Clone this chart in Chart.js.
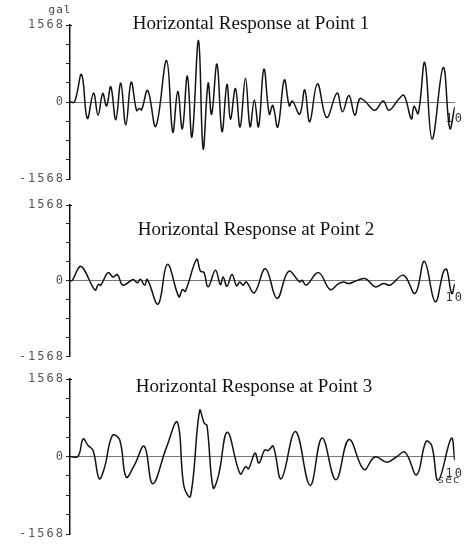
<!DOCTYPE html>
<html>
<head>
<meta charset="utf-8">
<script src="https://cdn.jsdelivr.net/npm/chart.js@4.4.0/dist/chart.umd.min.js"></script>
<style>
  html, body { margin: 0; padding: 0; background: #fff; }
  #wrap { position: relative; width: 464px; height: 547px; overflow: hidden; }
  canvas { position: absolute; left: 0; }
</style>
</head>
<body>
<div id="wrap">
  <canvas id="p1" width="464" height="190" style="top:0"></canvas>
  <canvas id="p2" width="464" height="180" style="top:185px"></canvas>
  <canvas id="p3" width="464" height="187" style="top:360px"></canvas>
</div>
<script>
// ─── DATA (peaks / troughs, sec & gal) ───────────────────────────
const titles = [
    'Horizontal Response at Point 1',
    'Horizontal Response at Point 2',
    'Horizontal Response at Point 3',
];

const yMax = 1568;
const yStep = 392;
const yLabelValues = [-1568, 0, 1568];
const yLabelText   = ['-1568', '0', '1568'];
const timeMax = 10;
const unitY = 'gal';
const unitX = 'sec';

const time1 = [0, 0.12, 0.30, 0.45, 0.61, 0.73, 0.85, 0.95, 1.06, 1.19, 1.32, 1.45, 1.59, 1.73, 1.80, 1.86,
    2.02, 2.23, 2.51, 2.67, 2.80, 2.92, 3.05, 3.17, 3.34, 3.46, 3.59, 3.68, 3.82, 3.95, 4.08, 4.17, 4.30,
    4.42, 4.56, 4.68, 4.79, 4.90, 5.04, 5.18, 5.27, 5.40, 5.57, 5.70, 5.78, 5.97, 6.10, 6.23, 6.43, 6.67,
    6.94, 7.08, 7.25, 7.40, 7.53, 7.66, 7.92, 8.14, 8.29, 8.53, 8.68, 8.87, 8.94, 9.05, 9.22, 9.41, 9.70,
    9.87, 10.0];
const accel1 = [0, 5, 560, -335, 181, -268, 175, -80, 310, -360, 385, -469, 402, -175, -130, -160,
    235, -495, 845, -613, 215, -546, 526, -710, 1253, -951, 382, -250, 770, -603, 358, -350, 275,
    -510, 485, -503, 40, -503, 670, -250, -67, -510, 449, -80, 20, -248, 248, -402, 369, -315,
    181, -201, 134, -268, 67, 20, -168, 20, -168, 47, 134, -345, -87, -235, 804, -757, 703,
    -536, -100];

const time2 = [0, 0.06, 0.25, 0.36, 0.65, 0.74, 0.80, 0.99, 1.12, 1.23, 1.38, 1.64, 1.75, 1.83, 1.94,
    2.01, 2.29, 2.53, 2.83, 2.92, 3.00, 3.29, 3.39, 3.48, 3.59, 3.78, 3.91, 3.98, 4.08, 4.21, 4.33,
    4.41, 4.50, 4.58, 4.79, 5.08, 5.38, 5.68, 5.97, 6.03, 6.14, 6.46, 6.76, 6.98, 7.11, 7.24, 7.37,
    7.67, 7.93, 8.15, 8.32, 8.67, 8.97, 9.21, 9.49, 9.71, 9.79, 9.92, 10.0];
const accel2 = [0, 10, 295, 240, -190, -70, -90, 170, 80, 130, -90, 30, -40, 35, -90,
    30, -478, 342, -328, -180, -212, 445, 200, 175, -123, 219, -76, 82, -110, 130, -102,
    -21, -89, -21, -246, 253, -362, 198, -20, 14, -89, 171, -178, -55, -21, -55, -21,
    48, -122, -55, -89, 117, -260, 403, -430, 198, 240, -260, -60];

const time3 = [0, 0.21, 0.34, 0.47, 0.60, 0.76, 0.90, 1.10, 1.29, 1.46, 1.67, 1.93, 2.15, 2.50, 2.79,
    2.96, 3.13, 3.37, 3.49, 3.56, 3.72, 3.86, 4.09, 4.42, 4.57, 4.64, 4.81, 4.91, 5.06, 5.15, 5.28,
    5.49, 5.86, 6.24, 6.55, 6.91, 7.25, 7.64, 7.92, 8.24, 8.48, 8.71, 9.01, 9.25, 9.40, 9.57, 9.91,
    10.0];
const accel3 = [0, 5, 356, 222, 121, -450, -215, 424, 338, -416, -181, 208, -551, 170, 692,
    -600, -806, 928, 672, 630, -632, -382, 490, -349, -201, -250, 68, -133, 133, 118, 208,
    -450, 504, -584, 376, -470, 343, -262, -10, -114, -10, 87, -370, 302, 221, -483, 370,
    -80];

// ─── TEXT DRAWN ON EACH PANEL ─────────────────────────────────
function panelText(p) {
    return {
        id: 'panelText',
        beforeDraw(chart) {
            // wide plotter-style lettering for the axis numbers
            chart.ctx.letterSpacing = '2px';
        },
        afterDraw(chart) {
            const ctx = chart.ctx;
            ctx.save();
            ctx.letterSpacing = '0px';
            ctx.fillStyle = '#111';
            ctx.font = '19px "Liberation Serif"';
            ctx.textAlign = 'center';
            ctx.textBaseline = 'alphabetic';
            ctx.fillText(p.title, p.titleX, p.titleY);
            (p.notes || []).forEach(n => {
                ctx.font = '11px "DejaVu Sans Mono"';
                ctx.letterSpacing = '1px';
                ctx.fillStyle = '#444';
                ctx.fillText(n.text, n.x, n.y);
            });
            // little cap on top of the vertical axis
            const a = chart.chartArea;
            ctx.strokeStyle = '#111';
            ctx.lineWidth = 1;
            ctx.beginPath();
            ctx.moveTo(a.left - 3, a.top + 0.5);
            ctx.lineTo(a.left + 2, a.top + 0.5);
            ctx.stroke();
            ctx.restore();
            ctx.letterSpacing = '0px';
        }
    };
}

// ─── PANELS ───────────────────────────────────────────────────
function makePanel(id, times, values, p) {
    const pts = times.map((t, i) => ({ x: t, y: values[i] }));
    return new Chart(document.getElementById(id), {
        type: 'line',
        data: {
            datasets: [{
                data: pts,
                borderColor: '#121212',
                borderWidth: 1.5,
                pointRadius: 0,
                tension: 0.4,
                fill: false
            }]
        },
        options: {
            responsive: false,
            animation: false,
            events: [],
            layout: { padding: { top: p.top, bottom: p.bottom, left: 0, right: 9 } },
            plugins: { legend: { display: false }, tooltip: { enabled: false } },
            scales: {
                x: {
                    type: 'linear',
                    min: 0, max: timeMax,
                    position: { y: 0 },
                    grid: { display: false },
                    border: { color: '#777', width: 1 },
                    ticks: {
                        stepSize: timeMax, autoSkip: false, maxRotation: 0, padding: 2,
                        color: '#333', font: { family: 'DejaVu Sans Mono', size: 12 },
                        callback: v => v === timeMax ? String(timeMax) : ''
                    }
                },
                y: {
                    min: -yMax, max: yMax,
                    afterFit: s => { s.width = 70; },
                    grid: { drawOnChartArea: false, tickLength: 4, color: '#222', lineWidth: 1 },
                    border: { color: '#111', width: 1.5 },
                    ticks: {
                        stepSize: yStep, autoSkip: false, padding: 1,
                        color: '#555', font: { family: 'DejaVu Sans Mono', size: 12 },
                        callback: v => {
                            const i = yLabelValues.indexOf(v);
                            return i >= 0 ? yLabelText[i] : '';
                        }
                    }
                }
            }
        },
        plugins: [panelText(p)]
    });
}

makePanel('p1', time1, accel1, {
    top: 25, bottom: 11, title: titles[0], titleX: 251, titleY: 29,
    notes: [{ text: unitY, x: 60, y: 13 }]
});
makePanel('p2', time2, accel2, {
    top: 20, bottom: 7, title: titles[1], titleX: 256, titleY: 50
});
makePanel('p3', time3, accel3, {
    top: 19, bottom: 13, title: titles[2], titleX: 254, titleY: 32,
    notes: [{ text: unitX, x: 449, y: 123 }]
});
</script>
</body>
</html>
